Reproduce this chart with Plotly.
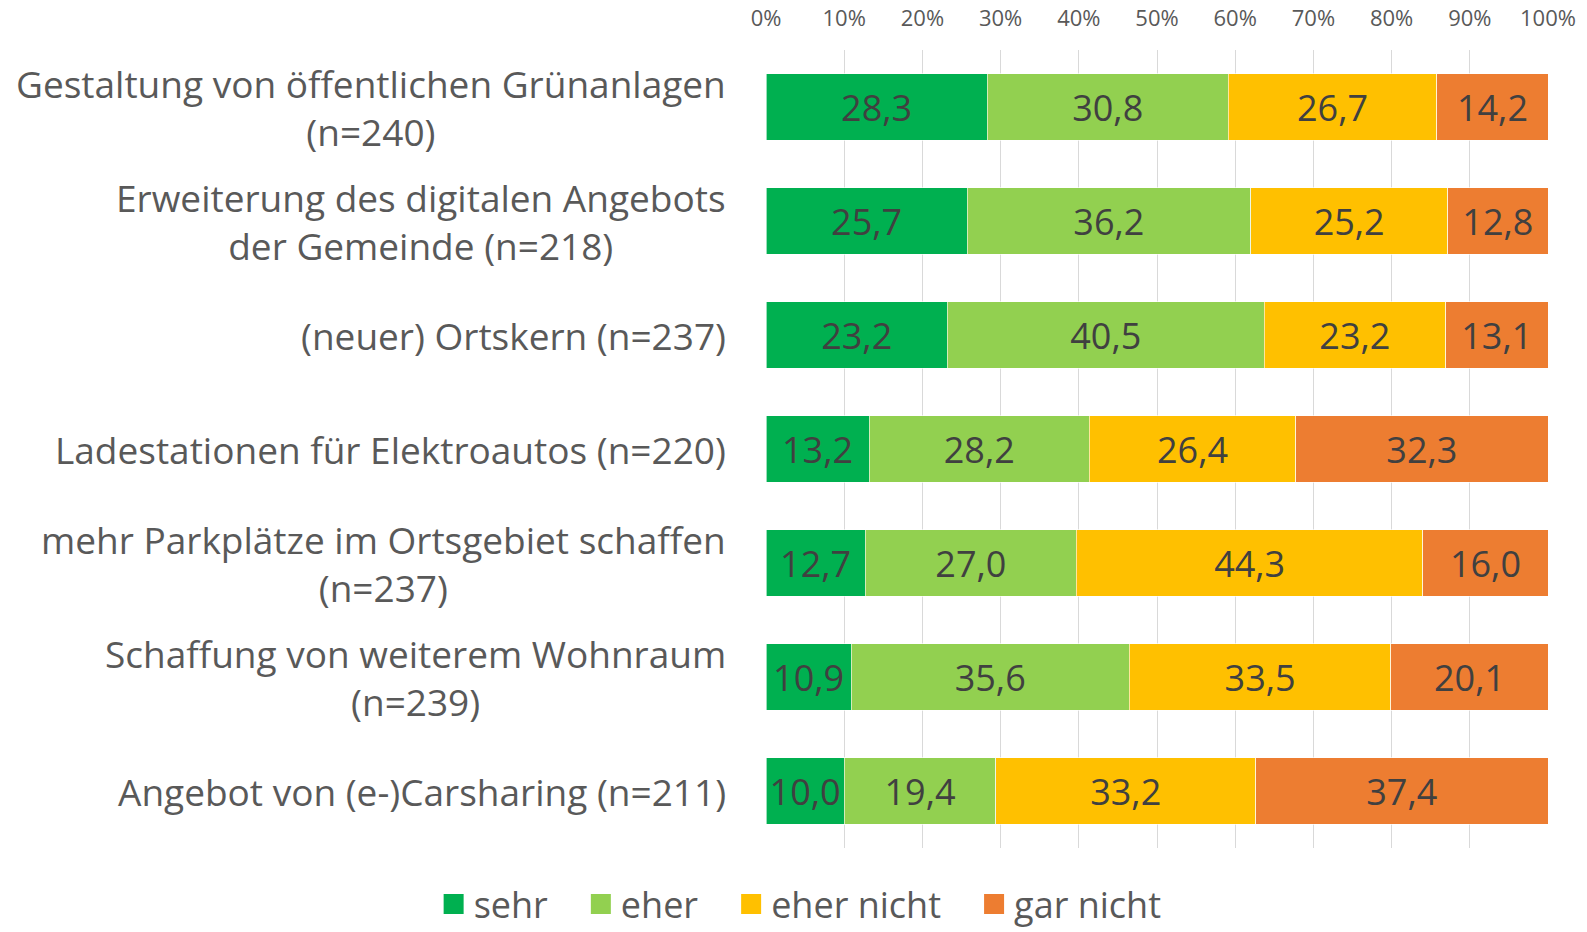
import plotly.graph_objects as go

categories = [
    "Gestaltung von öffentlichen Grünanlagen<br>(n=240)",
    "Erweiterung des digitalen Angebots<br>der Gemeinde (n=218)",
    "(neuer) Ortskern (n=237)",
    "Ladestationen für Elektroautos (n=220)",
    "mehr Parkplätze im Ortsgebiet schaffen<br>(n=237)",
    "Schaffung von weiterem Wohnraum<br>(n=239)",
    "Angebot von (e-)Carsharing (n=211)",
]
series_names = ["sehr", "eher", "eher nicht", "gar nicht"]
sehr = [28.3, 25.7, 23.2, 13.2, 12.7, 10.9, 10.0]
eher = [30.8, 36.2, 40.5, 28.2, 27.0, 35.6, 19.4]
eher_nicht = [26.7, 25.2, 23.2, 26.4, 44.3, 33.5, 33.2]
gar_nicht = [14.2, 12.8, 13.1, 32.3, 16.0, 20.1, 37.4]
tick_vals = [0, 10, 20, 30, 40, 50, 60, 70, 80, 90, 100]
tick_text = [f"{v}%" for v in tick_vals]

colors = ["#00B050", "#92D050", "#FFC000", "#ED7D31"]
values = [sehr, eher, eher_nicht, gar_nicht]

FONT = "Open Sans"
fig = go.Figure()
for name, vals, col in zip(series_names, values, colors):
    fig.add_trace(go.Bar(
        y=categories, x=vals, name=name, orientation="h",
        marker=dict(color=col, line=dict(color="rgba(255,255,255,0.6)", width=1)),
        text=[f"{v:.1f}".replace(".", ",") for v in vals],
        textposition="inside", insidetextanchor="middle",
        textfont=dict(family=FONT, size=36, color="#404040"),
        constraintext="none",
        width=0.58, showlegend=False,
        hoverinfo="skip",
    ))
# legend entries with square markers
for name, col in zip(series_names, colors):
    fig.add_trace(go.Scatter(
        x=[None], y=[None], mode="markers", name=name + "\u00a0\u00a0\u00a0",
        marker=dict(symbol="square", size=24, color=col, line=dict(color=col, width=4)),
    ))

for c in categories:
    fig.add_annotation(
        x=0, xref="paper", y=c, yref="y", text=c, showarrow=False,
        xanchor="right", yanchor="middle", align="center", xshift=-38,
        font=dict(family=FONT, size=37, color="#595959"),
    )

fig.update_layout(
    barmode="stack", barnorm="percent",
    width=1587, height=932,
    margin=dict(l=766, r=39, t=50, b=84, autoexpand=False),
    paper_bgcolor="white", plot_bgcolor="white",
    showlegend=True,
    legend=dict(orientation="h", xref="container", yref="container",
                x=0.513, xanchor="center", y=0.03, yanchor="middle",
                font=dict(family=FONT, size=36, color="#595959"),
                itemsizing="trace", traceorder="normal", itemwidth=30),
    uniformtext=dict(mode=False),
)
fig.update_xaxes(
    side="top", range=[0, 100], tickvals=tick_vals, ticktext=tick_text,
    showgrid=True, gridcolor="#D9D9D9", gridwidth=1, zeroline=False,
    showline=False, ticks="", ticklabelstandoff=19,
    tickfont=dict(family=FONT, size=22, color="#595959"),
)
fig.update_yaxes(
    categoryorder="array", categoryarray=categories[::-1],
    showticklabels=False, showgrid=False, zeroline=False, showline=False,
)

fig.write_html("out.html", config={"displayModeBar": False},
               post_script="document.body.style.margin='0';document.body.style.overflow='hidden';")
